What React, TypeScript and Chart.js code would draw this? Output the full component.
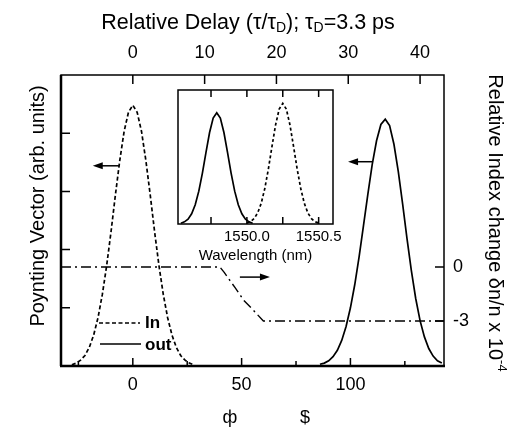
import React, { useEffect, useRef } from "react";
import { Chart, registerables } from "chart.js";

Chart.register(...registerables);

const FONT = "'Liberation Sans', Arial, Helvetica, sans-serif";

// Input pulse: time (ps) and Poynting vector (arb. units)
const inTime = [-28, -26, -24, -22, -20, -18, -16, -14, -12, -10, -8, -6, -4, -2, 0, 2, 4, 6, 8, 10, 12, 14, 16, 18, 20, 22, 24, 26, 28];
const inPower = [0.02, 0.05, 0.1, 0.18, 0.32, 0.53, 0.83, 1.23, 1.73, 2.31, 2.94, 3.53, 4.03, 4.36, 4.48, 4.36, 4.03, 3.53, 2.94, 2.31, 1.73, 1.23, 0.83, 0.53, 0.32, 0.18, 0.1, 0.05, 0.02];

// Output pulse after the delay line
const outTime = [86, 88, 90, 92, 94, 96, 98, 100, 102, 104, 106, 108, 110, 112, 114, 116, 118, 120, 122, 124, 126, 128, 130, 132, 134, 136, 138, 140, 142];
const outPower = [0.03, 0.05, 0.09, 0.16, 0.27, 0.44, 0.68, 1.0, 1.4, 1.88, 2.41, 2.95, 3.46, 3.87, 4.15, 4.24, 4.13, 3.81, 3.34, 2.78, 2.19, 1.64, 1.16, 0.78, 0.5, 0.3, 0.17, 0.09, 0.05];

// Relative index change (x 10^-4) versus time
const indexTime = [-33, 40, 42, 47, 51, 55, 60, 143];
const indexChange = [0, 0, -0.3, -1.15, -1.85, -2.35, -3, -3];

// Inset spectra: wavelength (nm) and normalised intensity
const outWavelength = [1549.54, 1549.565, 1549.59, 1549.615, 1549.64, 1549.665, 1549.69, 1549.715, 1549.74, 1549.765, 1549.79, 1549.815, 1549.84, 1549.865, 1549.89, 1549.915, 1549.94, 1549.965, 1549.99, 1550.015, 1550.04];
const outSpectrum = [0.006, 0.016, 0.036, 0.076, 0.143, 0.245, 0.38, 0.535, 0.683, 0.79, 0.83, 0.79, 0.683, 0.535, 0.38, 0.245, 0.143, 0.076, 0.036, 0.016, 0.006];
const inWavelength = [1550.0, 1550.025, 1550.05, 1550.075, 1550.1, 1550.125, 1550.15, 1550.175, 1550.2, 1550.225, 1550.25, 1550.275, 1550.3, 1550.325, 1550.35, 1550.375, 1550.4, 1550.425, 1550.45, 1550.475, 1550.5];
const inSpectrum = [0.007, 0.017, 0.04, 0.082, 0.155, 0.266, 0.412, 0.58, 0.74, 0.857, 0.9, 0.857, 0.74, 0.58, 0.412, 0.266, 0.155, 0.082, 0.04, 0.017, 0.007];

// Axis ticks
const TAU_D = 3.3;
const timeTicks = [0, 50, 100];
const timeMinorTicks = [-25, 25, 75, 125];
const delayTicks = [0, 10, 20, 30, 40];
const powerTicks = [1, 2, 3, 4];
const indexTicks = [0, -3];
const wavelengthTicks = [1549.75, 1550.0, 1550.25, 1550.5];
const wavelengthLabels = [1550.0, 1550.5];

type Run = { t: string; size: number; dy?: number };

function runsWidth(ctx: CanvasRenderingContext2D, runs: Run[]) {
  let w = 0;
  for (const r of runs) {
    ctx.font = `${r.size}px ${FONT}`;
    w += ctx.measureText(r.t).width;
  }
  return w;
}

function drawRunsCentered(ctx: CanvasRenderingContext2D, runs: Run[], cx: number, cy: number) {
  let x = cx - runsWidth(ctx, runs) / 2;
  ctx.textAlign = "left";
  ctx.textBaseline = "middle";
  for (const r of runs) {
    ctx.font = `${r.size}px ${FONT}`;
    ctx.fillText(r.t, x, cy + (r.dy || 0));
    x += ctx.measureText(r.t).width;
  }
}

function drawArrow(ctx: CanvasRenderingContext2D, xTail: number, xTip: number, y: number) {
  const dir = Math.sign(xTip - xTail);
  ctx.lineWidth = 1.5;
  ctx.setLineDash([]);
  ctx.beginPath();
  ctx.moveTo(xTail, y);
  ctx.lineTo(xTip - dir * 5, y);
  ctx.stroke();
  ctx.beginPath();
  ctx.moveTo(xTip, y);
  ctx.lineTo(xTip - dir * 10, y - 3.5);
  ctx.lineTo(xTip - dir * 10, y + 3.5);
  ctx.closePath();
  ctx.fill();
}

const mainDecor = {
  id: "mainDecor",
  afterDraw(chart: any) {
    const { ctx, chartArea: a, scales } = chart;
    const sx = scales.x;
    const sTop = scales.xTop;
    const sy = scales.y;
    const sIdx = scales.yIdx;
    ctx.save();
    ctx.strokeStyle = "#000";
    ctx.fillStyle = "#000";
    ctx.setLineDash([]);

    // frame
    ctx.lineWidth = 1.5;
    ctx.strokeRect(a.left, a.top, a.right - a.left, a.bottom - a.top);
    ctx.lineWidth = 2.5;
    ctx.beginPath();
    ctx.moveTo(a.left - 1, a.bottom);
    ctx.lineTo(a.right + 1, a.bottom);
    ctx.moveTo(a.left, a.top);
    ctx.lineTo(a.left, a.bottom);
    ctx.stroke();

    // inward tick marks
    ctx.lineWidth = 1.5;
    ctx.beginPath();
    for (const v of timeTicks) {
      const p = sx.getPixelForValue(v);
      ctx.moveTo(p, a.bottom);
      ctx.lineTo(p, a.bottom - 8);
    }
    for (const v of timeMinorTicks) {
      const p = sx.getPixelForValue(v);
      ctx.moveTo(p, a.bottom);
      ctx.lineTo(p, a.bottom - 5);
    }
    for (const v of delayTicks) {
      const p = sTop.getPixelForValue(v);
      ctx.moveTo(p, a.top);
      ctx.lineTo(p, a.top + 9);
    }
    for (const v of powerTicks) {
      const p = sy.getPixelForValue(v);
      ctx.moveTo(a.left, p);
      ctx.lineTo(a.left + 9, p);
    }
    for (const v of indexTicks) {
      const p = sIdx.getPixelForValue(v);
      ctx.moveTo(a.right, p);
      ctx.lineTo(a.right - 9, p);
    }
    ctx.stroke();

    // arrows pointing to the axis each curve belongs to
    drawArrow(ctx, sx.getPixelForValue(-6.4), sx.getPixelForValue(-18.4), sy.getPixelForValue(3.44));
    drawArrow(ctx, sx.getPixelForValue(110.4), sx.getPixelForValue(98.9), sy.getPixelForValue(3.51));
    drawArrow(ctx, sx.getPixelForValue(49.2), sx.getPixelForValue(63.0), sIdx.getPixelForValue(-0.56));

    // legend
    const lx = a.left + 38;
    ctx.lineWidth = 1.6;
    ctx.setLineDash([4, 2.5]);
    ctx.beginPath();
    ctx.moveTo(lx, 323);
    ctx.lineTo(lx + 41, 323);
    ctx.stroke();
    ctx.setLineDash([]);
    ctx.beginPath();
    ctx.moveTo(lx + 1, 344);
    ctx.lineTo(lx + 42, 344);
    ctx.stroke();
    ctx.font = `bold 17px ${FONT}`;
    ctx.textAlign = "left";
    ctx.textBaseline = "middle";
    ctx.fillText("In", lx + 46, 323);
    ctx.fillText("out", lx + 46, 345);

    // top title with subscripts
    drawRunsCentered(
      ctx,
      [
        { t: "Relative Delay (τ/τ", size: 21.5 },
        { t: "D", size: 14, dy: 5 },
        { t: "); τ", size: 21.5 },
        { t: "D", size: 14, dy: 5 },
        { t: "=3.3 ps", size: 21.5 },
      ],
      248,
      23
    );

    // left axis title
    ctx.save();
    ctx.translate(38, 206);
    ctx.rotate(-Math.PI / 2);
    drawRunsCentered(ctx, [{ t: "Poynting Vector (arb. units)", size: 20 }], 0, 0);
    ctx.restore();

    // right axis title
    ctx.save();
    ctx.translate(495, 223);
    ctx.rotate(Math.PI / 2);
    drawRunsCentered(
      ctx,
      [
        { t: "Relative Index change δn/n x 10", size: 20 },
        { t: "-4", size: 13, dy: -7 },
      ],
      0,
      0
    );
    ctx.restore();

    // bottom axis title
    ctx.font = `18px ${FONT}`;
    ctx.textAlign = "center";
    ctx.textBaseline = "middle";
    ctx.fillText("ф", 230, 418);
    ctx.fillText("$", 305, 418);

    ctx.restore();
  },
};

const insetDecor = {
  id: "insetDecor",
  afterDraw(chart: any) {
    const { ctx, chartArea: a, scales } = chart;
    const sx = scales.x;
    ctx.save();
    ctx.strokeStyle = "#000";
    ctx.fillStyle = "#000";
    ctx.setLineDash([]);
    ctx.lineWidth = 1.5;
    ctx.strokeRect(a.left, a.top, a.right - a.left, a.bottom - a.top);
    ctx.beginPath();
    for (const v of wavelengthTicks) {
      const p = sx.getPixelForValue(v);
      ctx.moveTo(p, a.top);
      ctx.lineTo(p, a.top + 7);
      ctx.moveTo(p, a.bottom);
      ctx.lineTo(p, a.bottom - 7);
    }
    ctx.stroke();
    ctx.font = `15px ${FONT}`;
    ctx.textAlign = "center";
    ctx.textBaseline = "middle";
    ctx.fillText("Wavelength (nm)", (a.left + a.right) / 2, a.bottom + 32);
    ctx.restore();
  },
};

const toPoints = (xs: number[], ys: number[]) => xs.map((x, i) => ({ x, y: ys[i] }));

export default function App() {
  const mainRef = useRef<HTMLCanvasElement>(null);
  const insetRef = useRef<HTMLCanvasElement>(null);

  useEffect(() => {
    if (!mainRef.current || !insetRef.current) return;
    const tickFont = { family: FONT, size: 18 };

    const main = new Chart(mainRef.current, {
      type: "line",
      data: {
        datasets: [
          {
            label: "In",
            data: toPoints(inTime, inPower),
            borderColor: "#000",
            borderWidth: 1.7,
            borderDash: [4, 2.5],
            pointRadius: 0,
            fill: false,
            xAxisID: "x",
            yAxisID: "y",
          },
          {
            label: "out",
            data: toPoints(outTime, outPower),
            borderColor: "#000",
            borderWidth: 1.7,
            pointRadius: 0,
            fill: false,
            xAxisID: "x",
            yAxisID: "y",
          },
          {
            label: "index change",
            data: toPoints(indexTime, indexChange),
            borderColor: "#000",
            borderWidth: 1.4,
            borderDash: [10, 4, 2, 4],
            pointRadius: 0,
            fill: false,
            xAxisID: "x",
            yAxisID: "yIdx",
          },
        ],
      },
      options: {
        responsive: false,
        animation: false,
        events: [],
        layout: { padding: 0, autoPadding: false },
        plugins: { legend: { display: false }, tooltip: { enabled: false }, title: { display: false } },
        scales: {
          x: {
            type: "linear",
            position: "bottom",
            min: -33,
            max: 143,
            grid: { display: false, drawTicks: false },
            border: { display: false },
            afterBuildTicks: (s: any) => {
              s.ticks = timeTicks.map((v) => ({ value: v }));
            },
            ticks: { font: tickFont, color: "#000", padding: 8, maxRotation: 0, autoSkip: false, callback: (v: any) => String(v) },
            afterFit: (s: any) => {
              s.height = 64;
            },
          },
          xTop: {
            type: "linear",
            position: "top",
            min: -33 / TAU_D,
            max: 143 / TAU_D,
            grid: { display: false, drawTicks: false },
            border: { display: false },
            afterBuildTicks: (s: any) => {
              s.ticks = delayTicks.map((v) => ({ value: v }));
            },
            ticks: { font: tickFont, color: "#000", padding: 11, maxRotation: 0, autoSkip: false, callback: (v: any) => String(v) },
            afterFit: (s: any) => {
              s.height = 75;
            },
          },
          y: {
            type: "linear",
            position: "left",
            min: 0,
            max: 5,
            grid: { display: false, drawTicks: false },
            border: { display: false },
            afterBuildTicks: (s: any) => {
              s.ticks = powerTicks.map((v) => ({ value: v }));
            },
            ticks: { display: false },
            afterFit: (s: any) => {
              s.width = 61;
            },
          },
          yIdx: {
            type: "linear",
            position: "right",
            min: -5.5,
            max: 10.67,
            grid: { display: false, drawTicks: false },
            border: { display: false },
            afterBuildTicks: (s: any) => {
              s.ticks = indexTicks.map((v) => ({ value: v }));
            },
            ticks: { font: tickFont, color: "#000", padding: 9, autoSkip: false, callback: (v: any) => String(v) },
            afterFit: (s: any) => {
              s.width = 65;
            },
          },
        },
      },
      plugins: [mainDecor],
    } as any);

    const inset = new Chart(insetRef.current, {
      type: "line",
      data: {
        datasets: [
          {
            label: "out",
            data: toPoints(outWavelength, outSpectrum),
            borderColor: "#000",
            borderWidth: 1.7,
            pointRadius: 0,
            fill: false,
          },
          {
            label: "in",
            data: toPoints(inWavelength, inSpectrum),
            borderColor: "#000",
            borderWidth: 1.7,
            borderDash: [3, 2.5],
            pointRadius: 0,
            fill: false,
          },
        ],
      },
      options: {
        responsive: false,
        animation: false,
        events: [],
        layout: { padding: { left: 28, top: 10, right: 17, bottom: 0 }, autoPadding: false },
        plugins: { legend: { display: false }, tooltip: { enabled: false } },
        scales: {
          x: {
            type: "linear",
            min: 1549.52,
            max: 1550.6,
            grid: { display: false, drawTicks: false },
            border: { display: false },
            afterBuildTicks: (s: any) => {
              s.ticks = wavelengthLabels.map((v) => ({ value: v }));
            },
            ticks: { font: { family: FONT, size: 15 }, color: "#000", padding: 4, maxRotation: 0, autoSkip: false, callback: (v: any) => Number(v).toFixed(1) },
            afterFit: (s: any) => {
              s.height = 46;
            },
          },
          y: { type: "linear", display: false, min: 0, max: 1 },
        },
      },
      plugins: [insetDecor],
    } as any);

    return () => {
      main.destroy();
      inset.destroy();
    };
  }, []);

  return (
    <div style={{ position: "fixed", left: 0, top: 0, width: 509, height: 430, background: "#fff" }}>
      <canvas ref={mainRef} width={509} height={430} style={{ position: "absolute", left: 0, top: 0, width: 509, height: 430 }} />
      <canvas ref={insetRef} width={200} height={190} style={{ position: "absolute", left: 150, top: 80, width: 200, height: 190 }} />
    </div>
  );
}
